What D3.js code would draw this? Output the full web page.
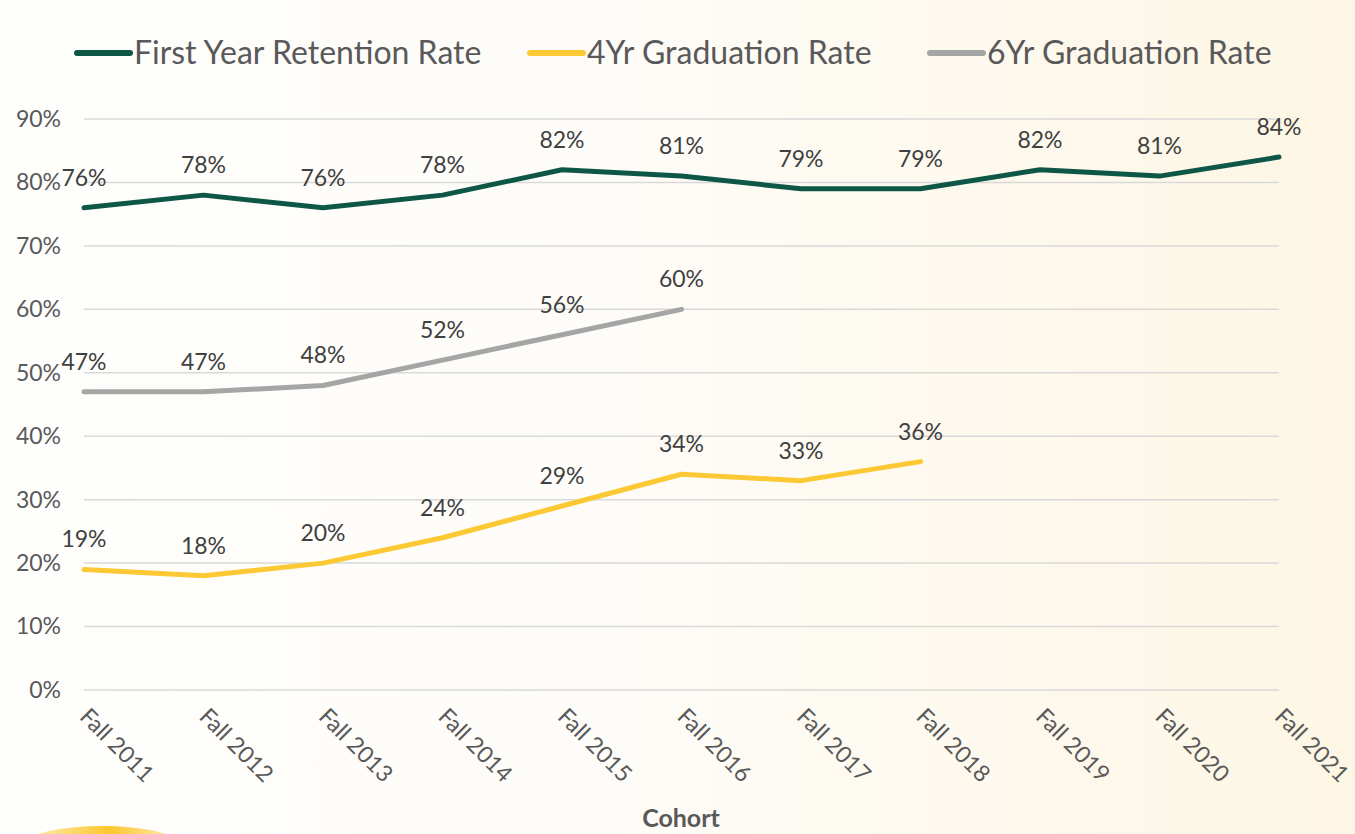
<!DOCTYPE html>
<html><head><meta charset="utf-8">
<script src="https://cdn.jsdelivr.net/npm/d3@7"></script>
<style>
html,body{margin:0;padding:0;}
body{width:1355px;height:834px;overflow:hidden;font-family:Lato,"Open Sans",sans-serif;}
</style></head>
<body><svg id="c" width="1355" height="834"></svg>
<script>
const cohorts = ["Fall 2011","Fall 2012","Fall 2013","Fall 2014","Fall 2015","Fall 2016","Fall 2017","Fall 2018","Fall 2019","Fall 2020","Fall 2021"];
const retention = [76,78,76,78,82,81,79,79,82,81,84];
const grad4 = [19,18,20,24,29,34,33,36];
const grad6 = [47,47,48,52,56,60];
const yTicks = [0,10,20,30,40,50,60,70,80,90];
const seriesNames = ["First Year Retention Rate","4Yr Graduation Rate","6Yr Graduation Rate"];
const colors = ["#0e5747","#fcc934","#a5a5a5"];

const svg = d3.select("#c");
const defs = svg.append("defs");
const bg = defs.append("linearGradient").attr("id","bg").attr("x1","0").attr("x2","1").attr("y1","0").attr("y2","0");
bg.append("stop").attr("offset","0").attr("stop-color","#fefefc");
bg.append("stop").attr("offset","0.45").attr("stop-color","#fefcf8");
bg.append("stop").attr("offset","1").attr("stop-color","#fdf6e4");
svg.append("rect").attr("width",1355).attr("height",834).attr("fill","url(#bg)");

// decoration bottom-left
const dg = defs.append("linearGradient").attr("id","dg").attr("x1","0").attr("x2","1");
dg.append("stop").attr("offset","0").attr("stop-color","#fdedb8");
dg.append("stop").attr("offset","0.55").attr("stop-color","#fcc72c");
dg.append("stop").attr("offset","1").attr("stop-color","#fdebb0");
svg.append("ellipse").attr("cx",102).attr("cy",841).attr("rx",72).attr("ry",15).attr("fill","url(#dg)");

const x = d3.scalePoint().domain(cohorts).range([84,1279]);
const y = d3.scaleLinear().domain([0,90]).range([690,119]);

// grid
svg.append("g").selectAll("line").data(yTicks).join("line")
  .attr("x1",84).attr("x2",1279).attr("y1",d=>y(d)).attr("y2",d=>y(d))
  .attr("stroke","#d9d9d9").attr("stroke-width",1.5);

// y axis
const ya = svg.append("g").attr("transform","translate(61,0)")
  .call(d3.axisLeft(y).tickValues(yTicks).tickFormat(d=>d+"%").tickSize(0).tickPadding(0));
ya.select(".domain").remove();
ya.selectAll("text").attr("font-family","Lato").attr("font-size",23).attr("fill","#595959");

// x axis
const xa = svg.append("g").attr("transform","translate(0,690)")
  .call(d3.axisBottom(x).tickSize(0).tickPadding(0));
xa.select(".domain").remove();
xa.selectAll("text").attr("font-family","Lato").attr("font-size",23).attr("fill","#595959")
  .attr("text-anchor","start").attr("dy",null).attr("y",0)
  .attr("transform","translate(-6,28) rotate(45)");

svg.append("text").attr("x",681).attr("y",827).attr("text-anchor","middle")
  .attr("font-family","Lato").attr("font-weight","bold").attr("font-size",25).attr("fill","#595959").text("Cohort");

const line = d3.line().x((d,i)=>x(cohorts[i])).y(d=>y(d));
const series = [retention, grad4, grad6];
series.forEach((s,k)=>{
  svg.append("path").datum(s).attr("d",line).attr("fill","none")
    .attr("stroke",colors[k]).attr("stroke-width",5).attr("stroke-linejoin","round").attr("stroke-linecap","round");
});
series.forEach((s,k)=>{
  svg.append("g").selectAll("text").data(s).join("text")
    .attr("x",(d,i)=>x(cohorts[i])).attr("y",d=>y(d)-22)
    .attr("text-anchor","middle").attr("font-family","Lato").attr("font-size",23).attr("fill","#404040")
    .text(d=>d+"%");
});

// legend
const legX = [75,528,928];
seriesNames.forEach((n,k)=>{
  const g = svg.append("g").attr("transform",`translate(${legX[k]},53)`);
  g.append("line").attr("x1",2).attr("x2",55).attr("y1",0).attr("y2",0)
    .attr("stroke",colors[k]).attr("stroke-width",6).attr("stroke-linecap","round");
  g.append("text").attr("x",59).attr("y",11).attr("font-family","Lato").attr("font-size",32).attr("fill","#595959").text(n);
});
</script></body></html>
